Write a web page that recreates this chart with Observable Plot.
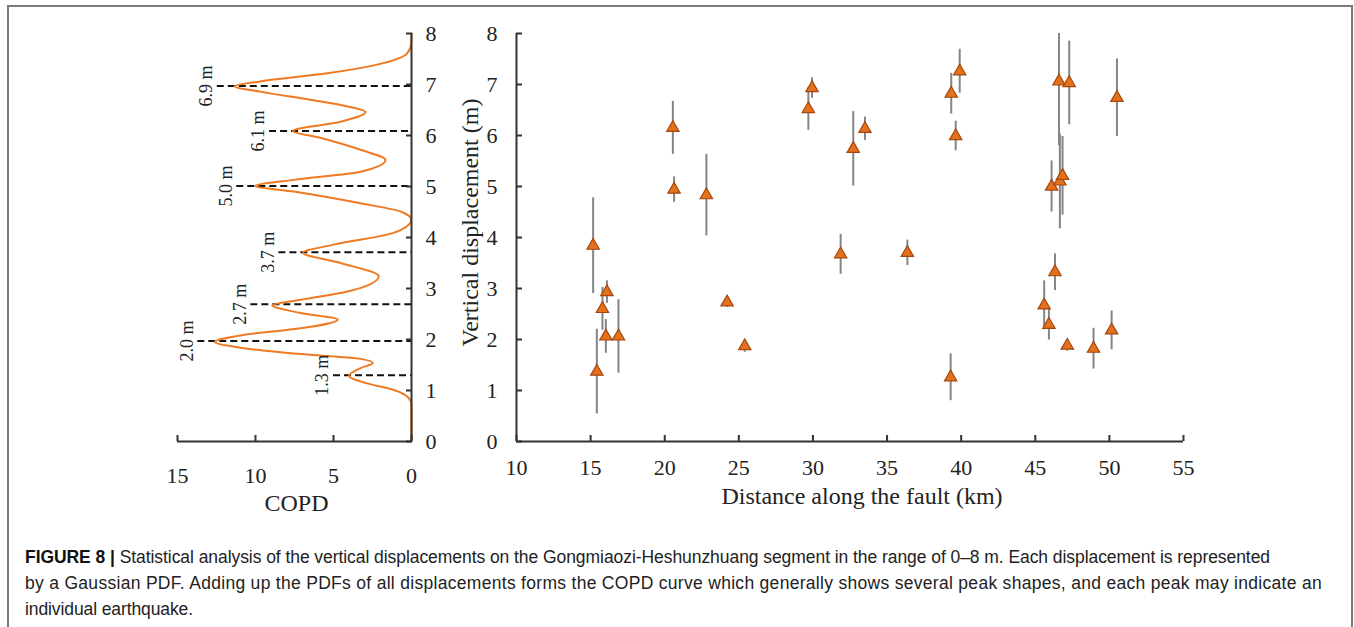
<!DOCTYPE html>
<html><head><meta charset="utf-8">
<script src="https://cdn.jsdelivr.net/npm/d3@7"></script>
<script src="https://cdn.jsdelivr.net/npm/@observablehq/plot@0.6"></script>
<style>
html,body{margin:0;padding:0;background:#fff;width:1354px;height:627px;overflow:hidden;}
#frame{position:absolute;left:7px;top:5px;width:1346px;height:700px;border:2px solid #7a7a7a;border-bottom:none;box-sizing:border-box;}
#left{position:absolute;left:0;top:0;}
#right{position:absolute;left:450px;top:0;}
#caption{position:absolute;left:25px;top:544px;font-family:"Liberation Sans",Arial,sans-serif;font-size:17.5px;line-height:26px;color:#222;white-space:nowrap;}
#caption div{display:block;}
#caption span.l{display:inline-block;}
#caption b{font-weight:bold;color:#111;}
svg{max-width:none !important;}
</style></head>
<body>
<div id="frame"></div>
<div id="left"></div>
<div id="right"></div>
<div id="caption">
<div><span class="l" data-w="1245"><b>FIGURE 8 |</b> Statistical analysis of the vertical displacements on the Gongmiaozi-Heshunzhuang segment in the range of 0–8 m. Each displacement is represented</span></div>
<div><span class="l" data-w="1297">by a Gaussian PDF. Adding up the PDFs of all displacements forms the COPD curve which generally shows several peak shapes, and each peak may indicate an</span></div>
<div><span class="l" data-w="168">individual earthquake.</span></div>
</div>
<script>
// ---- Tick values ----
const copdTicks = [15, 10, 5, 0];
const dispTicks = [0, 1, 2, 3, 4, 5, 6, 7, 8];
const distTicks = [10, 15, 20, 25, 30, 35, 40, 45, 50, 55];

// ---- COPD curve: displacement (m) and COPD value ----
const copdY   = [0, 0.72, 0.85, 1.01, 1.14, 1.29, 1.44, 1.54, 1.63, 1.70, 1.83, 1.95, 2.09, 2.22, 2.39, 2.52, 2.67, 2.78, 2.94, 3.24, 3.50, 3.70, 3.86, 4.09, 4.35, 4.51, 4.67, 4.90, 5.01, 5.13, 5.29, 5.52, 5.72, 5.95, 6.09, 6.27, 6.46, 6.57, 6.70, 6.86, 6.96, 7.06, 7.22, 7.39, 7.61, 7.80, 8.0];
const copdVal = [0, 0,    0.17, 1.13, 2.85, 4.0,  3.27, 2.48, 3.5,  6.5,  10.75, 12.6, 10.75, 7.1, 4.72, 7.1,  8.93, 7.1,  4.1,  2.1,  4.55, 6.95, 5.0,  1.15, 0.02, 0.7,  3.27, 7.55, 10.0, 7.55, 3.27, 1.67, 3.27, 5.8,  7.6,  4.55, 2.95, 4.1,  6.5,  9.7,  11.35, 9.7, 5.4,  2.2,  0.28, 0.02, 0];

// ---- COPD peaks ----
const peakY      = [1.30, 1.97, 2.69, 3.71, 5.01, 6.09, 6.97];
const peakLabels = ["1.3 m", "2.0 m", "2.7 m", "3.7 m", "5.0 m", "6.1 m", "6.9 m"];
const peakDashTo = [5.0, 13.7, 10.3, 8.5, 11.2, 9.1, 12.45];

// ---- Displacement measurements ----
const distKm = [15.17, 15.42, 15.80, 16.03, 16.10, 16.88, 20.55, 20.63, 22.81, 24.21, 25.40, 29.69, 29.94, 31.87, 32.72, 33.51, 36.37, 39.29, 39.33, 39.63, 39.90, 45.60, 45.92, 46.10, 46.33, 46.60, 46.66, 46.84, 47.16, 47.29, 48.93, 50.15, 50.51];
const dispM  = [3.84, 1.37, 2.60, 2.06, 2.93, 2.06, 6.15, 4.94, 4.83, 2.73, 1.87, 6.52, 6.93, 3.67, 5.74, 6.13, 3.70, 1.26, 6.82, 5.99, 7.26, 2.67, 2.29, 5.00, 3.32, 7.06, 5.10, 5.21, 1.88, 7.03, 1.82, 2.18, 6.74];
const dispErr= [0.94, 0.83, 0.42, 0.33, 0.22, 0.72, 0.52, 0.25, 0.80, 0.10, 0.12, 0.42, 0.20, 0.39, 0.73, 0.23, 0.25, 0.46, 0.40, 0.29, 0.43, 0.48, 0.30, 0.50, 0.36, 1.26, 0.93, 0.77, 0.11, 0.82, 0.40, 0.38, 0.76];

const curve = copdY.map((y, i) => ({y, c: copdVal[i]}));
const peaks = peakY.map((y, i) => ({y, label: peakLabels[i], to: peakDashTo[i]}));
const pts = distKm.map((x, i) => ({x, v: dispM[i], e: dispErr[i]}));

const AX = "#333";
const serif = "Liberation Serif, Times New Roman, serif";

const left = Plot.plot({
  width: 470, height: 520,
  marginLeft: 177, marginRight: 59, marginTop: 33, marginBottom: 79,
  style: {background: "transparent", fontFamily: serif, fontSize: "22px", color: "#222", overflow: "visible"},
  x: {domain: [15, 0]},
  y: {domain: [0, 8]},
  marks: [
    Plot.ruleY(peaks, {y: "y", x1: "to", x2: 0, stroke: "#111", strokeWidth: 2, strokeDasharray: "7,4"}),
    Plot.line(curve, {x: "c", y: "y", curve: "monotone-y", stroke: "#F07A22", strokeWidth: 2}),
    Plot.text(peaks, {x: "to", y: "y", text: "label", rotate: -90, dx: -11, textAnchor: "middle", fontSize: 18, fontFamily: serif, fill: "#222"}),
    Plot.ruleY([0], {stroke: AX, strokeWidth: 2}),
    Plot.ruleX([0], {stroke: AX, strokeWidth: 2}),
    Plot.axisX({ticks: copdTicks, tickSize: 6, dy: -6, tickFormat: () => "", stroke: AX, strokeWidth: 2, label: null}),
    Plot.axisX({ticks: copdTicks, tickSize: 0, tickPadding: 26, fontSize: 22, fontFamily: serif, fill: "#222", label: null}),
    Plot.axisY({anchor: "right", ticks: dispTicks, tickSize: 6, dx: -6, tickFormat: () => "", stroke: AX, strokeWidth: 2, label: null}),
    Plot.axisY({anchor: "right", ticks: dispTicks, tickSize: 0, tickPadding: 14, fontSize: 22, fontFamily: serif, fill: "#222", label: null}),
    Plot.text(["COPD"], {text: d => d, frameAnchor: "bottom", lineAnchor: "middle", textAnchor: "middle", dy: 62, dx: 2, fontSize: 24, fontFamily: serif, fill: "#222"})
  ]
});
document.getElementById("left").appendChild(left);

const right = Plot.plot({
  width: 760, height: 520,
  marginLeft: 66, marginRight: 27, marginTop: 33, marginBottom: 79,
  style: {background: "transparent", fontFamily: serif, fontSize: "22px", color: "#222", overflow: "visible"},
  x: {domain: [10, 55]},
  y: {domain: [0, 8]},
  marks: [
    Plot.ruleX(pts, {x: "x", y1: d => d.v - d.e, y2: d => d.v + d.e, stroke: "#858585", strokeWidth: 2, clip: true}),
    Plot.dot(pts, {x: "x", y: "v", symbol: "triangle", r: 4.6, fill: "#E5711B", stroke: "#A3470F", strokeWidth: 1.2}),
    Plot.ruleY([0], {stroke: AX, strokeWidth: 2}),
    Plot.ruleX([10], {stroke: AX, strokeWidth: 2}),
    Plot.axisX({ticks: distTicks, tickSize: 6, dy: -6, tickFormat: () => "", stroke: AX, strokeWidth: 2, label: null}),
    Plot.axisX({ticks: distTicks, tickSize: 0, tickPadding: 18, fontSize: 22, fontFamily: serif, fill: "#222", label: null}),
    Plot.axisY({ticks: dispTicks, tickSize: 6, dx: 6, tickFormat: () => "", stroke: AX, strokeWidth: 2, label: null}),
    Plot.axisY({ticks: dispTicks, tickSize: 0, tickPadding: 19, fontSize: 22, fontFamily: serif, fill: "#222", label: null}),
    Plot.text(["Distance along the fault (km)"], {text: d => d, frameAnchor: "bottom", lineAnchor: "middle", textAnchor: "middle", dy: 55, dx: 12, fontSize: 24, fontFamily: serif, fill: "#222"}),
    Plot.text(["Vertical displacement (m)"], {text: d => d, frameAnchor: "left", lineAnchor: "middle", textAnchor: "middle", rotate: -90, dx: -46, dy: -15, fontSize: 24, fontFamily: serif, fill: "#222"})
  ]
});
document.getElementById("right").appendChild(right);

// fit each caption line to the width it has in the reference
document.querySelectorAll("#caption span.l").forEach(s => {
  const target = +s.dataset.w;
  const n = s.textContent.length;
  const w = s.getBoundingClientRect().width;
  s.style.letterSpacing = ((target - w) / n) + "px";
});
</script>
</body></html>
